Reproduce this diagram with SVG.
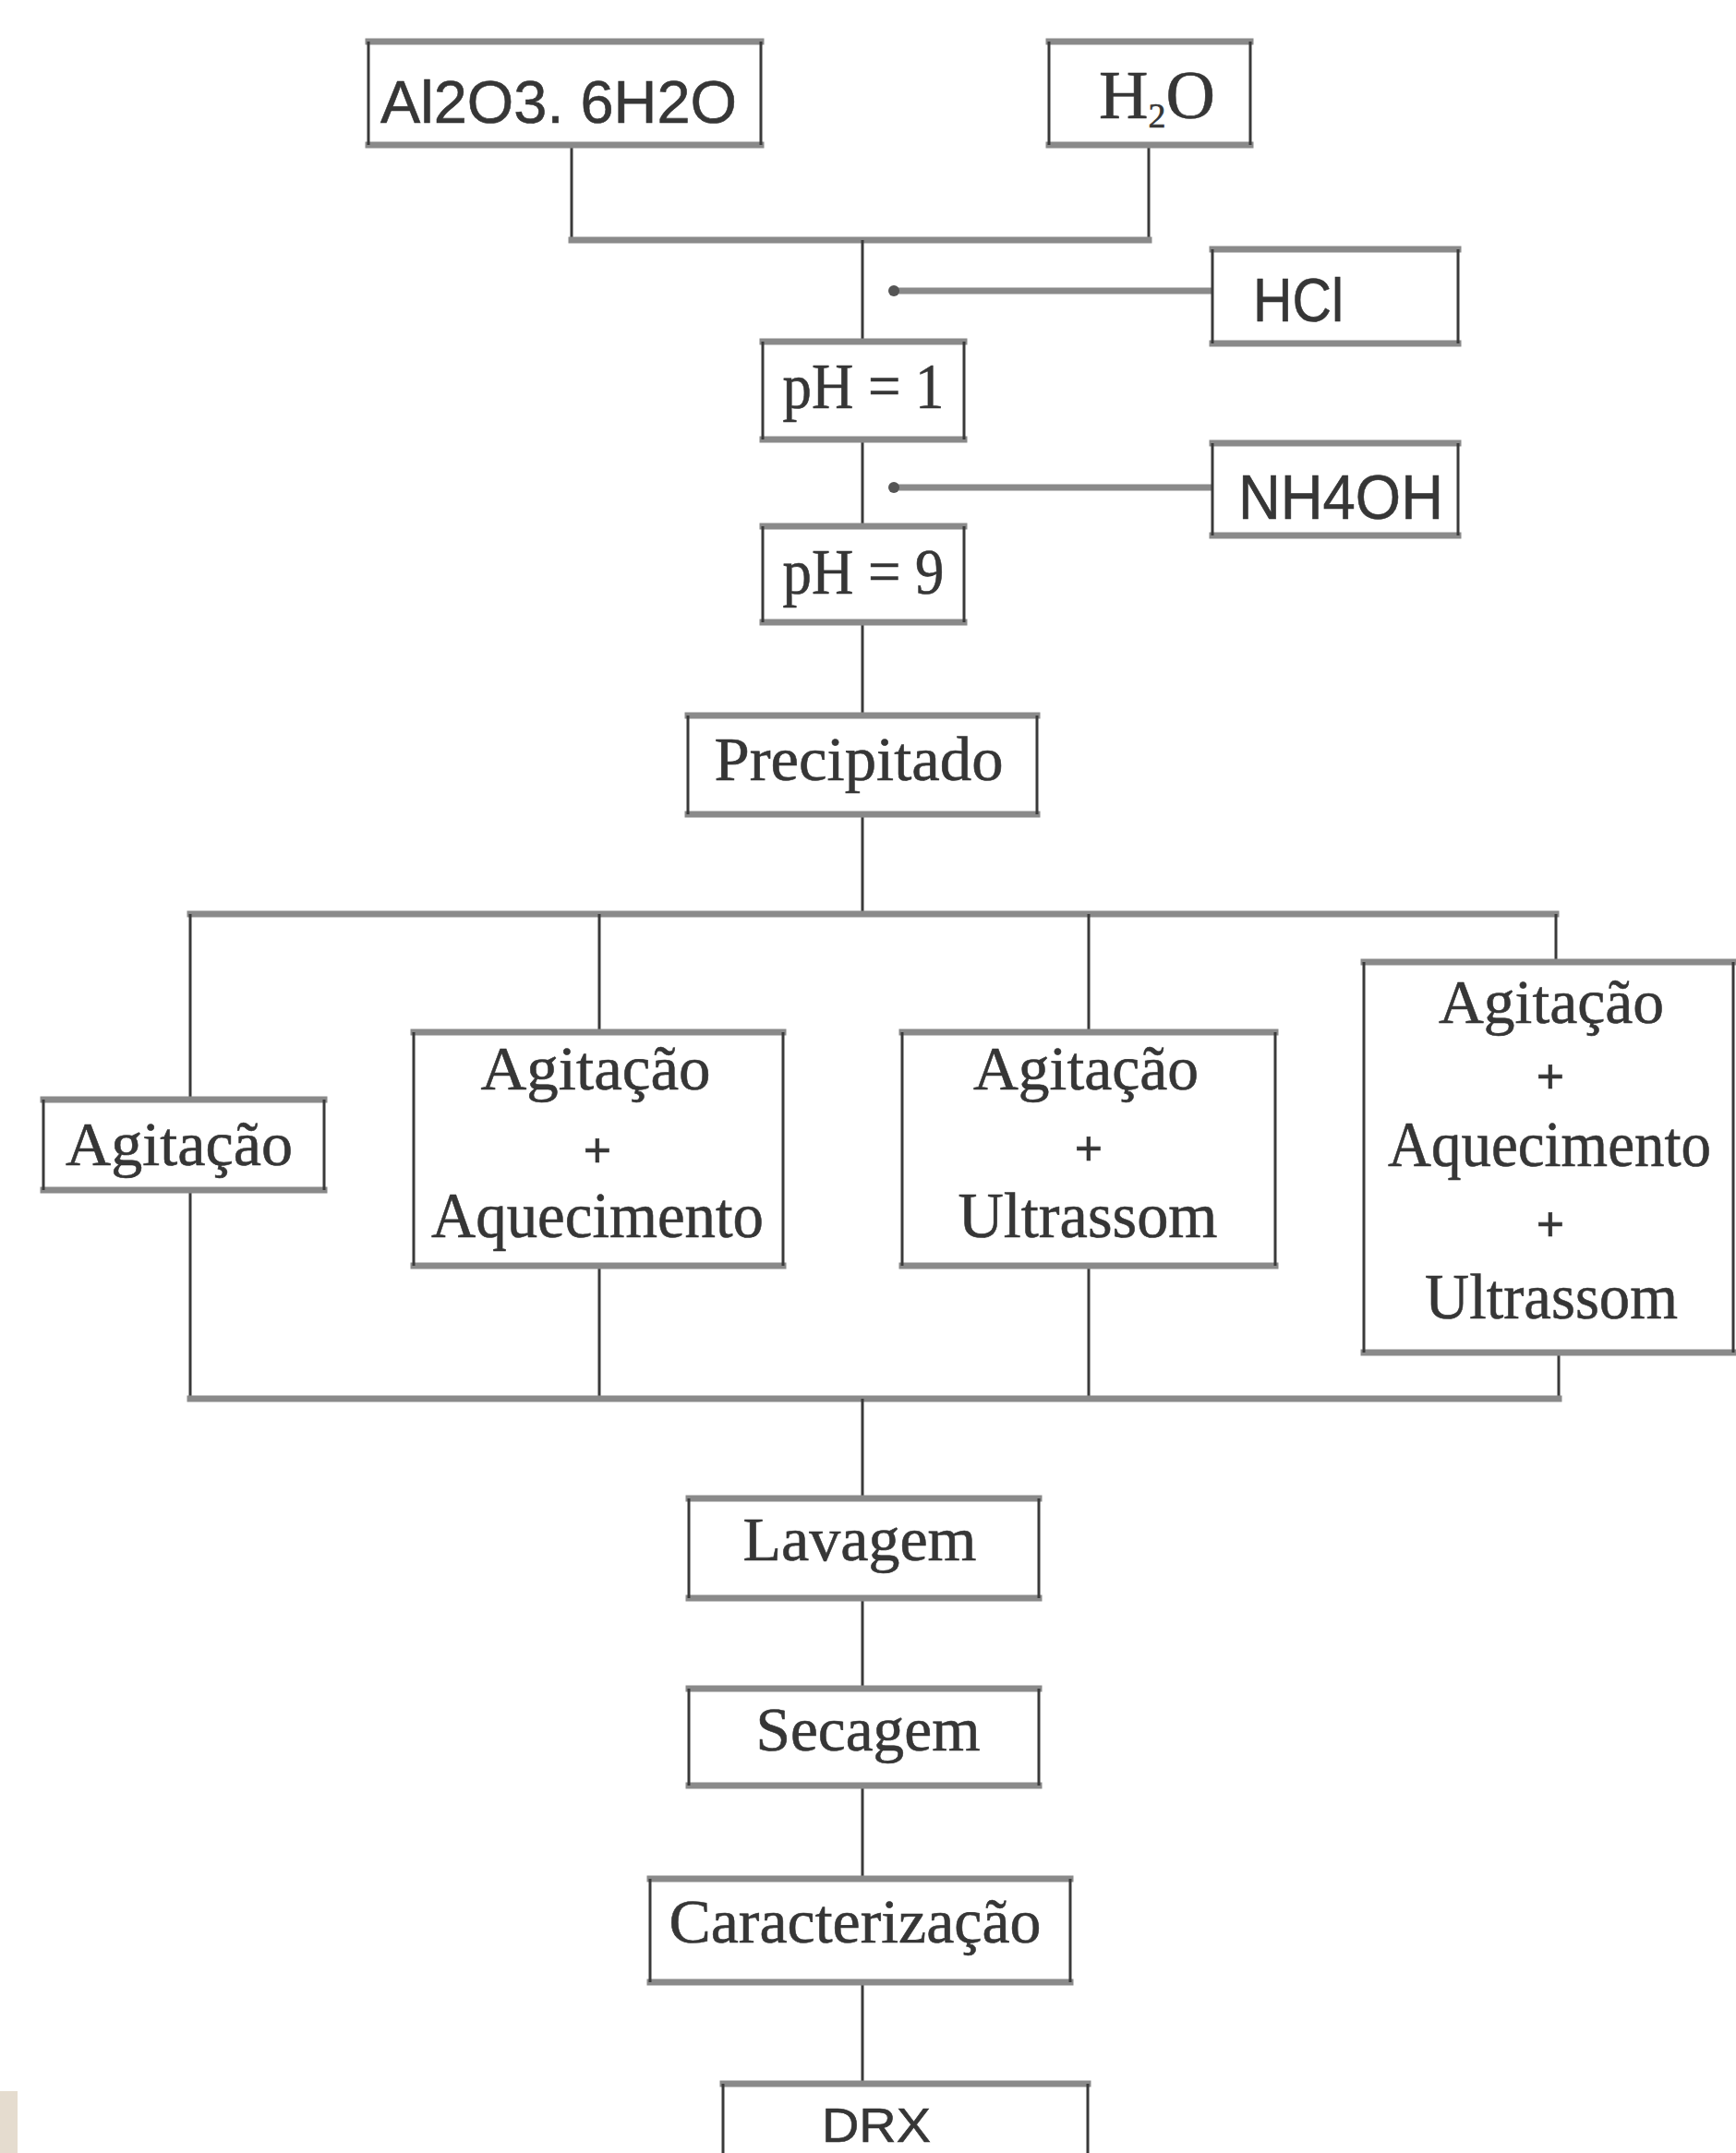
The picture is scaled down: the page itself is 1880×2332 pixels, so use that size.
<svg xmlns="http://www.w3.org/2000/svg" width="1880" height="2332" viewBox="0 0 1880 2332">
<style>
.h{stroke:#8a8a8a;stroke-width:7;fill:none;stroke-linecap:square}
.v{stroke:#3a3a3a;stroke-width:3;fill:none}
.bg{fill:#ffffff}
.s{font-family:"Liberation Serif","Times New Roman",serif;fill:#363636;text-anchor:middle;stroke:#363636;stroke-width:0.6}
.a{font-family:"Liberation Sans",Arial,sans-serif;fill:#363636;stroke:#363636;stroke-width:0.6}
.p{font-weight:bold}
.dot{fill:#555555}
</style>
<rect width="1880" height="2332" fill="#ffffff"/>
<rect x="0" y="2265" width="19" height="67" fill="#e5dccf"/>

<g id="connectors">
  <path class="v" d="M619 157 V260 M1244 157 V260"/>
  <path class="h" d="M619 260 H1244"/>
  <path class="v" d="M934 260 V370 M934 476 V570 M934 674 V775 M934 882 V990"/>
  <path class="h" d="M970 315 H1313 M970 528 H1313"/>
  <circle class="dot" cx="968" cy="315" r="6"/>
  <circle class="dot" cx="968" cy="528" r="6"/>
  <path class="h" d="M206 990 H1685"/>
  <path class="v" d="M206 990 V1191 M649 990 V1118 M1179 990 V1118 M1685 990 V1042"/>
  <path class="v" d="M206 1289 V1515 M649 1371 V1515 M1179 1371 V1515 M1688 1465 V1515"/>
  <path class="h" d="M206 1515 H1688"/>
  <path class="v" d="M934 1515 V1623 M934 1731 V1829 M934 1934 V2035 M934 2147 V2257"/>
</g>

<g id="n-al2o3">
  <rect class="bg" x="399" y="45" width="425" height="112"/>
  <path class="h" d="M399 45 H824 M399 157 H824"/>
  <path class="v" d="M399 45 V157 M824 45 V157"/>
  <text class="a" x="412" y="133" font-size="64" textLength="386" lengthAdjust="spacingAndGlyphs">Al2O3. 6H2O</text>
</g>

<g id="n-h2o">
  <rect class="bg" x="1136" y="45" width="218" height="112"/>
  <path class="h" d="M1136 45 H1354 M1136 157 H1354"/>
  <path class="v" d="M1136 45 V157 M1354 45 V157"/>
  <text x="1190" y="128" font-family="Liberation Serif, serif" font-size="74" fill="#363636" stroke="#363636" stroke-width="0.6">H<tspan font-size="38" dy="10">2</tspan><tspan dy="-10">O</tspan></text>
</g>

<g id="n-hcl">
  <rect class="bg" x="1313" y="270" width="266" height="102"/>
  <path class="h" d="M1313 270 H1579 M1313 372 H1579"/>
  <path class="v" d="M1313 270 V372 M1579 270 V372"/>
  <text class="a" x="1357" y="348" font-size="66" textLength="98" lengthAdjust="spacingAndGlyphs">HCl</text>
</g>

<g id="n-ph1">
  <rect class="bg" x="826" y="370" width="218" height="106"/>
  <path class="h" d="M826 370 H1044 M826 476 H1044"/>
  <path class="v" d="M826 370 V476 M1044 370 V476"/>
  <text class="s" x="935" y="442" font-size="70" textLength="175" lengthAdjust="spacingAndGlyphs">pH = 1</text>
</g>

<g id="n-nh4oh">
  <rect class="bg" x="1313" y="480" width="266" height="100"/>
  <path class="h" d="M1313 480 H1579 M1313 580 H1579"/>
  <path class="v" d="M1313 480 V580 M1579 480 V580"/>
  <text class="a" x="1341" y="562" font-size="68" textLength="222" lengthAdjust="spacingAndGlyphs">NH4OH</text>
</g>

<g id="n-ph9">
  <rect class="bg" x="826" y="570" width="218" height="104"/>
  <path class="h" d="M826 570 H1044 M826 674 H1044"/>
  <path class="v" d="M826 570 V674 M1044 570 V674"/>
  <text class="s" x="935" y="643" font-size="70" textLength="175" lengthAdjust="spacingAndGlyphs">pH = 9</text>
</g>

<g id="n-precipitado">
  <rect class="bg" x="745" y="775" width="378" height="107"/>
  <path class="h" d="M745 775 H1123 M745 882 H1123"/>
  <path class="v" d="M745 775 V882 M1123 775 V882"/>
  <text class="s" x="930" y="845" font-size="68" textLength="313" lengthAdjust="spacingAndGlyphs">Precipitado</text>
</g>

<g id="n-agitacao">
  <rect class="bg" x="47" y="1191" width="304" height="98"/>
  <path class="h" d="M47 1191 H351 M47 1289 H351"/>
  <path class="v" d="M47 1191 V1289 M351 1191 V1289"/>
  <text class="s" x="194" y="1262" font-size="68" textLength="246" lengthAdjust="spacingAndGlyphs">Agitação</text>
</g>

<g id="n-agit-aquec">
  <rect class="bg" x="448" y="1118" width="400" height="253"/>
  <path class="h" d="M448 1118 H848 M448 1371 H848"/>
  <path class="v" d="M448 1118 V1371 M848 1118 V1371"/>
  <text class="s" x="645" y="1180" font-size="68" textLength="249" lengthAdjust="spacingAndGlyphs">Agitação</text>
  <text class="s p" x="647" y="1264" font-size="54">+</text>
  <text class="s" x="647" y="1340" font-size="70" textLength="360" lengthAdjust="spacingAndGlyphs">Aquecimento</text>
</g>

<g id="n-agit-ultra">
  <rect class="bg" x="977" y="1118" width="404" height="253"/>
  <path class="h" d="M977 1118 H1381 M977 1371 H1381"/>
  <path class="v" d="M977 1118 V1371 M1381 1118 V1371"/>
  <text class="s" x="1176" y="1180" font-size="68" textLength="244" lengthAdjust="spacingAndGlyphs">Agitação</text>
  <text class="s p" x="1179" y="1262" font-size="54">+</text>
  <text class="s" x="1178" y="1340" font-size="70" textLength="281" lengthAdjust="spacingAndGlyphs">Ultrassom</text>
</g>

<g id="n-agit-aquec-ultra">
  <rect class="bg" x="1477" y="1042" width="400" height="423"/>
  <path class="h" d="M1477 1042 H1880 M1477 1465 H1880"/>
  <path class="v" d="M1477 1042 V1465 M1877 1042 V1465"/>
  <text class="s" x="1680" y="1108" font-size="68" textLength="244" lengthAdjust="spacingAndGlyphs">Agitação</text>
  <text class="s p" x="1679" y="1184" font-size="54">+</text>
  <text class="s" x="1678" y="1263" font-size="70" textLength="350" lengthAdjust="spacingAndGlyphs">Aquecimento</text>
  <text class="s p" x="1679" y="1344" font-size="54">+</text>
  <text class="s" x="1680" y="1428" font-size="70" textLength="274" lengthAdjust="spacingAndGlyphs">Ultrassom</text>
</g>

<g id="n-lavagem">
  <rect class="bg" x="746" y="1623" width="379" height="108"/>
  <path class="h" d="M746 1623 H1125 M746 1731 H1125"/>
  <path class="v" d="M746 1623 V1731 M1125 1623 V1731"/>
  <text class="s" x="931" y="1690" font-size="68" textLength="253" lengthAdjust="spacingAndGlyphs">Lavagem</text>
</g>

<g id="n-secagem">
  <rect class="bg" x="746" y="1829" width="379" height="105"/>
  <path class="h" d="M746 1829 H1125 M746 1934 H1125"/>
  <path class="v" d="M746 1829 V1934 M1125 1829 V1934"/>
  <text class="s" x="940" y="1896" font-size="68" textLength="243" lengthAdjust="spacingAndGlyphs">Secagem</text>
</g>

<g id="n-caracterizacao">
  <rect class="bg" x="704" y="2035" width="455" height="112"/>
  <path class="h" d="M704 2035 H1159 M704 2147 H1159"/>
  <path class="v" d="M704 2035 V2147 M1159 2035 V2147"/>
  <text class="s" x="926" y="2104" font-size="68" textLength="403" lengthAdjust="spacingAndGlyphs">Caracterização</text>
</g>

<g id="n-drx">
  <rect class="bg" x="783" y="2257" width="395" height="75"/>
  <path class="h" d="M783 2257 H1178"/>
  <path class="v" d="M783 2257 V2332 M1178 2257 V2332"/>
  <text class="a" x="890" y="2320" font-size="52" textLength="118" lengthAdjust="spacingAndGlyphs">DRX</text>
</g>
</svg>
